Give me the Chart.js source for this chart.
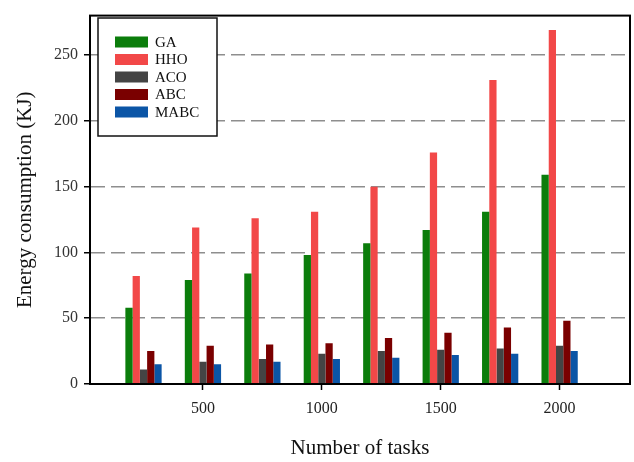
<!DOCTYPE html>
<html lang="en">
<head>
  <meta charset="UTF-8">
  <script src="https://cdn.jsdelivr.net/npm/chart.js"></script>
  <title>Energy consumption</title>
  <style>
    html, body { margin: 0; padding: 0; background: #fff; }
    #wrap { width: 634px; height: 462px; }
  </style>
</head>
<body>
  <div id="wrap"><canvas id="chart1"></canvas></div>
  <script>
    // data
    const tasks = [250, 500, 750, 1000, 1250, 1500, 1750, 2000];
    const gaValues   = [58, 79, 84, 98, 107, 117, 131, 159];
    const hhoValues  = [82, 119, 126, 131, 150, 176, 231, 269];
    const acoValues  = [11, 17, 19, 23, 25, 26, 27, 29];
    const abcValues  = [25, 29, 30, 31, 35, 39, 43, 48];
    const mabcValues = [15, 15, 17, 19, 20, 22, 23, 25];
    const xTicks = [500, 1000, 1500, 2000];
    const yTicks = [0, 50, 100, 150, 200, 250];

    const serif = "'Liberation Serif', 'Times New Roman', serif";

    function series(label, values, color) {
      return {
        label: label,
        data: values.map((v, i) => ({ x: tasks[i], y: v })),
        backgroundColor: color,
        borderWidth: 0,
        barPercentage: 1,
        categoryPercentage: 0.61
      };
    }

    // legend box inside the plot, plus the top/right frame
    const framePlugin = {
      id: 'frame',
      afterDraw(chart) {
        const ctx = chart.ctx;
        const a = chart.chartArea;
        ctx.save();
        ctx.strokeStyle = '#000';
        ctx.lineWidth = 2;
        ctx.strokeRect(a.left, a.top, a.right - a.left, a.bottom - a.top);

        const bx = 98, by = 18, bw = 119, bh = 118;
        ctx.fillStyle = '#fff';
        ctx.fillRect(bx, by, bw, bh);
        ctx.lineWidth = 1.5;
        ctx.strokeStyle = '#111';
        ctx.strokeRect(bx, by, bw, bh);

        ctx.font = '15px ' + serif;
        ctx.textBaseline = 'middle';
        chart.data.datasets.forEach((ds, i) => {
          const cy = 42 + i * 17.5;
          ctx.fillStyle = ds.backgroundColor;
          ctx.fillRect(115, cy - 5.5, 33, 11);
          ctx.fillStyle = '#111';
          ctx.fillText(ds.label, 155, cy + 1);
        });
        ctx.restore();
      }
    };

    new Chart(document.getElementById('chart1'), {
      type: 'bar',
      data: {
        datasets: [
          series('GA', gaValues, '#0b7d0b'),
          series('HHO', hhoValues, '#f24848'),
          series('ACO', acoValues, '#444444'),
          series('ABC', abcValues, '#7a0000'),
          series('MABC', mabcValues, '#0b55a6')
        ]
      },
      options: {
        responsive: true,
        maintainAspectRatio: false,
        animation: false,
        layout: { padding: { top: 6, right: 4, bottom: 0, left: 0 } },
        plugins: {
          legend: { display: false },
          tooltip: { enabled: false }
        },
        scales: {
          x: {
            type: 'linear',
            offset: false,
            min: 25,
            max: 2296,
            afterBuildTicks: s => { s.ticks = xTicks.map(v => ({ value: v })); },
            afterFit: s => { s.height = 78; },
            ticks: {
              font: { family: serif, size: 16 },
              color: '#222',
              padding: 9,
              maxRotation: 0,
              callback: v => String(v)
            },
            grid: {
              offset: false,
              drawOnChartArea: false,
              drawTicks: true,
              tickLength: 6,
              tickColor: '#000',
              tickWidth: 1.5
            },
            border: { display: true, color: '#000', width: 2 },
            title: {
              display: true,
              text: 'Number of tasks',
              font: { family: serif, size: 21 },
              color: '#111',
              padding: { top: 0, bottom: 1 }
            }
          },
          y: {
            min: 0,
            max: 280,
            afterBuildTicks: s => { s.ticks = yTicks.map(v => ({ value: v })); },
            afterFit: s => { s.width = 90; },
            ticks: {
              font: { family: serif, size: 16 },
              color: '#333',
              padding: 6
            },
            grid: {
              color: c => (c.tick && c.tick.value === 0) ? 'rgba(0,0,0,0)' : '#8e8e8e',
              lineWidth: 1.5,
              tickLength: 6,
              tickColor: '#000',
              tickWidth: 1.5
            },
            border: { display: true, color: '#000', width: 2, dash: [14, 6] },
            title: {
              display: true,
              text: 'Energy consumption (KJ)',
              font: { family: serif, size: 21 },
              color: '#111',
              padding: { top: 13, bottom: 0 }
            }
          }
        }
      },
      plugins: [framePlugin]
    });
  </script>
</body>
</html>
